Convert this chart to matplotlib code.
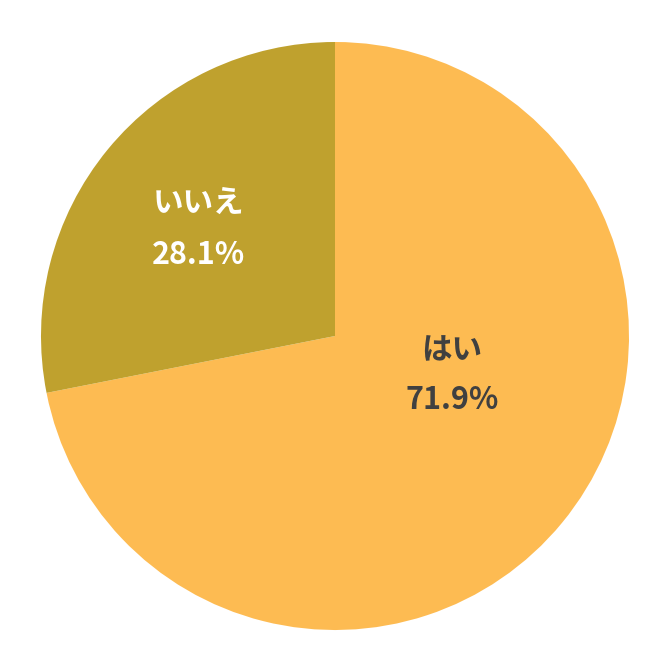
import matplotlib
matplotlib.use("Agg")
import matplotlib.pyplot as plt

plt.rcParams['font.family'] = ['Noto Sans CJK JP', 'DejaVu Sans']

categories = ["はい", "いいえ"]
values = [71.9, 28.1]
colors = ["#FDBB52", "#BFA12E"]
label_colors = ["#404040", "#FFFFFF"]
label_pos = [(0.398, -0.048, -0.218), (-0.463, 0.452, 0.276)]

fig = plt.figure(figsize=(6.64, 6.64), dpi=100)
ax = fig.add_axes([0, 0, 1, 1])
ax.pie(values, colors=colors, startangle=90, counterclock=False,
       radius=1.0, wedgeprops=dict(linewidth=0))
ax.set_xlim(-335/294, (664-335)/294)
ax.set_ylim(-328/294, 336/294)
ax.set_aspect('equal')
ax.axis('off')

for cat, val, col, (x, y1, y2) in zip(categories, values, label_colors, label_pos):
    ax.text(x, y1, cat, ha='center', va='center', fontsize=22,
            fontweight='bold', color=col)
    ax.text(x, y2, f"{val:.1f}%", ha='center', va='center', fontsize=22,
            fontweight='bold', color=col)

fig.savefig("out.png", dpi=100, facecolor='white')
